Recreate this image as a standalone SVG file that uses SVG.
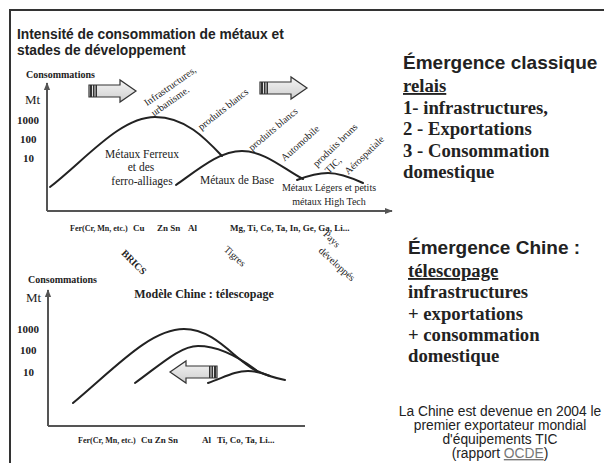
<svg xmlns="http://www.w3.org/2000/svg" width="604" height="463" viewBox="0 0 604 463">
<style>
.ser{font-family:"Liberation Serif","Times New Roman",serif;fill:#222}
.sans{font-family:"Liberation Sans",Arial,sans-serif;fill:#222}
.b{font-weight:bold}
.rot{font-size:10px;dominant-baseline:central;text-anchor:middle}
.curve{fill:none;stroke:#222;stroke-width:2;stroke-linecap:round}
.axis{fill:none;stroke:#555;stroke-width:2}
.big{font-size:18.7px;font-weight:bold}
</style>
<defs>
<linearGradient id="ag" x1="0" y1="0" x2="0" y2="1">
<stop offset="0" stop-color="#f4f4f4"/><stop offset="1" stop-color="#cfcfcf"/>
</linearGradient>
<marker id="ah" viewBox="0 0 10 10" refX="9" refY="5" markerWidth="4" markerHeight="4" orient="auto">
<path d="M0,1 L10,5 L0,9 Z" fill="#555"/>
</marker>
<g id="blk">
<path d="M0,-6 H31 V-11 L47,0 L31,11 V6 H0 Z" fill="url(#ag)" stroke="#333" stroke-width="1.2"/>
<rect x="1" y="-6" width="2" height="12" fill="#333"/>
<rect x="4" y="-6" width="1.5" height="12" fill="#333"/>
<rect x="6.5" y="-6" width="1.5" height="12" fill="#333"/>
</g>
</defs>
<rect width="604" height="463" fill="#fff"/>
<rect x="10" y="10" width="600" height="465" fill="none" stroke="#333" stroke-width="2"/>

<g id="title">
<text class="sans b" font-size="13.8" x="17" y="39">Intensité de consommation de métaux et</text>
<text class="sans b" font-size="13.8" x="17" y="55">stades de développement</text>
</g>

<g id="upper-chart">
<text class="ser b" font-size="10" x="26" y="78">Consommations</text>
<text class="ser" font-size="13" x="25" y="104">Mt</text>
<text class="ser b" font-size="11" x="17" y="124">1000</text>
<text class="ser b" font-size="11" x="20" y="143">100</text>
<text class="ser b" font-size="11" x="23" y="162">10</text>
<path class="axis" d="M47,211 V83" marker-end="url(#ah)"/>
<path class="axis" d="M47,211 H392" marker-end="url(#ah)"/>
<path class="curve" d="M50,187 C85,160 120,117 155,117 C185,117 205,138 222,156"/>
<path class="curve" d="M176,185 C200,168 220,151 242,151 C265,151 285,170 303,179"/>
<path class="curve" d="M297,180 C310,175 318,173 328,173 C340,173 352,178 363,183"/>
<use href="#blk" transform="translate(89,91)"/>
<use href="#blk" transform="translate(260,88)"/>
<text class="ser" font-size="11.5" text-anchor="middle" x="142" y="158">Métaux Ferreux</text>
<text class="ser" font-size="11.5" text-anchor="middle" x="141" y="171">et des</text>
<text class="ser" font-size="11.5" text-anchor="middle" x="142" y="185">ferro-alliages</text>
<text class="ser" font-size="11.5" text-anchor="middle" x="237" y="184">Métaux de Base</text>
<text class="ser" font-size="10" text-anchor="middle" x="329" y="191">Métaux Légers et petits</text>
<text class="ser" font-size="10" text-anchor="middle" x="329" y="205">métaux High Tech</text>
<text class="ser rot" transform="translate(170,86) rotate(-35)">Infrastructures,</text>
<text class="ser rot" transform="translate(170,101) rotate(-35)">urbanisme.</text>
<text class="ser rot" transform="translate(223,109) rotate(-38)">produits blancs</text>
<text class="ser rot" transform="translate(273,129) rotate(-40)">produits blancs</text>
<text class="ser rot" transform="translate(300,143) rotate(-42)">Automobile</text>
<text class="ser rot" transform="translate(335,145) rotate(-44)">produits bruns</text>
<text class="ser rot" transform="translate(333,165) rotate(-44)">TIC,</text>
<text class="ser rot" transform="translate(364,155) rotate(-44)">Aérospatiale</text>
<g class="ser b" font-size="9">
<text x="70" y="231" font-size="8">Fer(Cr, Mn, etc.)</text>
<text x="133" y="231">Cu</text>
<text x="157" y="231">Zn Sn</text>
<text x="188" y="231">Al</text>
<text x="230" y="231">Mg, Ti, Co, Ta, In, Ge, Ga, Li...</text>
</g>
<text class="ser b rot" font-size="12" transform="translate(134,262) rotate(45)">BRICS</text>
<text class="ser rot" font-size="11" transform="translate(235,256) rotate(42)">Tigres</text>
<text class="ser rot" font-size="11" transform="translate(332,239) rotate(45)">Pays</text>
<text class="ser rot" font-size="11" transform="translate(337,264) rotate(42)">développés</text>
</g>

<g id="lower-chart">
<text class="ser b" font-size="10" x="28" y="283">Consommations</text>
<text class="ser b" font-size="12" text-anchor="middle" x="204" y="298">Modèle Chine : télescopage</text>
<text class="ser" font-size="13" x="26" y="302">Mt</text>
<text class="ser b" font-size="11" x="17" y="333">1000</text>
<text class="ser b" font-size="11" x="20" y="354">100</text>
<text class="ser b" font-size="11" x="23" y="376">10</text>
<path class="axis" d="M48,426 V290" marker-end="url(#ah)"/>
<path class="axis" d="M48,426 H305"/>
<path class="curve" d="M73,403 C115,368 150,329 184,329 C215,329 235,360 255,370 C265,375 275,378 285,380"/>
<path class="curve" d="M135,383 C160,365 180,346 198,346 C220,346 240,358 256,370"/>
<path class="curve" d="M208,383 C225,377 235,371 248,371 C258,371 265,374 270,376"/>
<use href="#blk" transform="translate(217,372) scale(-1,1)"/>
<g class="ser b" font-size="9">
<text x="78" y="443" font-size="8">Fer(Cr, Mn, etc.)</text>
<text x="141" y="443">Cu Zn Sn</text>
<text x="202" y="443">Al</text>
<text x="217" y="443">Ti, Co, Ta, Li...</text>
</g>
</g>

<g id="classic-text">
<text class="sans b" font-size="19" x="403" y="69">Émergence classique</text>
<text class="ser big" x="403" y="92" text-decoration="underline">relais</text>
<text class="ser big" x="403" y="114">1- infrastructures,</text>
<text class="ser big" x="403" y="135">2 - Exportations</text>
<text class="ser big" x="403" y="157">3 - Consommation</text>
<text class="ser big" x="403" y="178">domestique</text>
</g>

<g id="china-text">
<text class="sans b" font-size="19" x="408" y="254">Émergence Chine :</text>
<text class="ser big" x="408" y="277" text-decoration="underline">télescopage</text>
<text class="ser big" x="408" y="298">infrastructures</text>
<text class="ser big" x="408" y="320">+ exportations</text>
<text class="ser big" x="408" y="341">+ consommation</text>
<text class="ser big" x="408" y="362">domestique</text>
</g>

<g id="note" class="sans" font-size="13.8" text-anchor="middle">
<text x="500" y="416">La Chine est devenue en 2004 le</text>
<text x="500" y="430">premier exportateur mondial</text>
<text x="500" y="444">d'équipements TIC</text>
<text x="500" y="458">(rapport <tspan fill="#777" text-decoration="underline">OCDE</tspan>)</text>
</g>
</svg>
